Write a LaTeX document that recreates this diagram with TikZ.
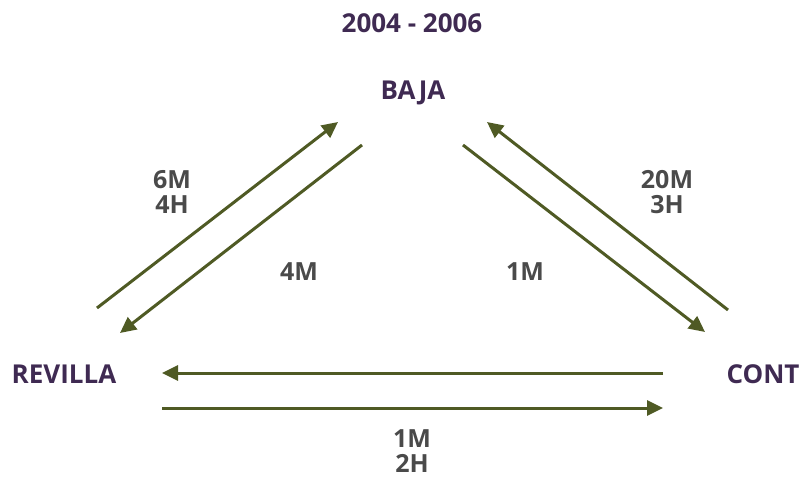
\documentclass[tikz,border=0pt]{standalone}
\usepackage{fontspec}
\setmainfont{Open Sans}
\usetikzlibrary{arrows.meta}
\definecolor{olive}{HTML}{4F5A24}
\definecolor{plum}{HTML}{3F2A52}
\definecolor{labelgray}{HTML}{4A4A4A}
\tikzset{
  place/.style={font=\fontsize{26}{30}\selectfont\bfseries, text=plum, inner sep=0pt},
  amount/.style={font=\fontsize{25}{25}\selectfont\bfseries, text=labelgray, align=center, inner sep=0pt},
  flow/.style={draw=olive, line width=3pt, -{Triangle[length=16pt,width=15pt]}}
}
\begin{document}
\begin{tikzpicture}[x=1pt,y=-1pt]
\useasboundingbox (0,0) rectangle (803,478);
\node[place] (title) at (412,23) {2004 - 2006};
\node[place] (baja) at (413,93) {BAJA};
\node[place] (revilla) at (64,374) {REVILLA};
\node[place] (cont) at (763,374) {CONT};

\coordinate (rb1) at (97,308);  \coordinate (rb2) at (338,122);
\coordinate (br1) at (362,145); \coordinate (br2) at (120,333);
\coordinate (cb1) at (728,310); \coordinate (cb2) at (487,122);
\coordinate (bc1) at (463,145); \coordinate (bc2) at (705,332);
\coordinate (cr1) at (663,373); \coordinate (cr2) at (162,373);
\coordinate (rc1) at (162,408); \coordinate (rc2) at (663,408);

\draw[flow] (rb1) -- (rb2);
\draw[flow] (br1) -- (br2);
\draw[flow] (cb1) -- (cb2);
\draw[flow] (bc1) -- (bc2);
\draw[flow] (cr1) -- (cr2);
\draw[flow] (rc1) -- (rc2);

\node[amount] (l1) at (172,192) {6M\\4H};
\node[amount] (l2) at (299,272) {4M};
\node[amount] (l3) at (667,192) {20M\\3H};
\node[amount] (l4) at (525,272) {1M};
\node[amount, anchor=north] (l5) at (412,429) {1M\\2H};
\end{tikzpicture}
\end{document}
